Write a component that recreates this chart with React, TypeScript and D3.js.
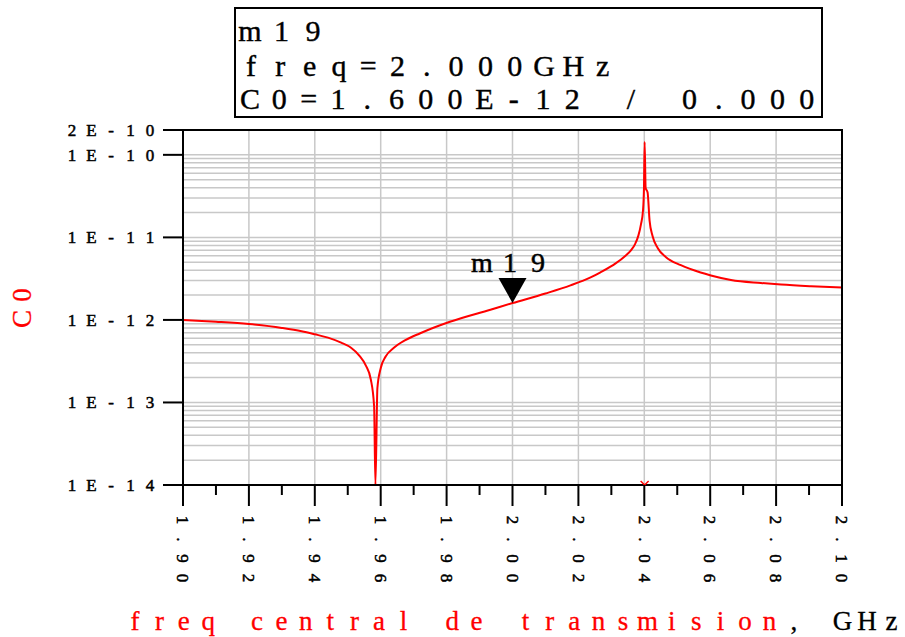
import React from "react";
import * as d3 from "d3";

// C0 versus centre transmission frequency
const freqGHz = [
  1.9, 1.91, 1.92, 1.93, 1.936, 1.94, 1.944, 1.948, 1.951, 1.9535, 1.9555,
  1.957, 1.958, 1.9584, 1.959, 1.96, 1.9615, 1.964, 1.9675, 1.972, 1.981,
  1.9933, 2.0, 2.01, 2.0176, 2.0237, 2.0267, 2.0313, 2.0343, 2.036, 2.0372,
  2.0382, 2.039, 2.0396, 2.0399, 2.0401, 2.0404, 2.041, 2.0416, 2.0425,
  2.0441, 2.0465, 2.0511, 2.0571, 2.0602, 2.0663, 2.0754, 2.0815, 2.0906, 2.1,
];
const c0Values = [
  1.0e-12, 0.95e-12, 0.89e-12, 0.8e-12, 0.73e-12, 0.67e-12, 0.61e-12,
  0.53e-12, 0.46e-12, 0.37e-12, 0.28e-12, 0.19e-12, 0.09e-12, 1e-15,
  0.15e-12, 0.26e-12, 0.36e-12, 0.46e-12, 0.57e-12, 0.69e-12, 0.95e-12,
  1.33e-12, 1.6e-12, 2.09e-12, 2.62e-12, 3.27e-12, 3.77e-12, 4.84e-12,
  6.0e-12, 7.0e-12, 8.3e-12, 10.5e-12, 14.5e-12, 21e-12, 40e-12, 143e-12,
  40e-12, 35e-12, 16e-12, 10.4e-12, 7.4e-12, 5.8e-12, 4.6e-12, 3.75e-12,
  3.46e-12, 3.05e-12, 2.8e-12, 2.68e-12, 2.56e-12, 2.47e-12,
];

const xTickValues = [1.9, 1.92, 1.94, 1.96, 1.98, 2.0, 2.02, 2.04, 2.06, 2.08, 2.1];
const xTickLabels = ["1.90", "1.92", "1.94", "1.96", "1.98", "2.00", "2.02", "2.04", "2.06", "2.08", "2.10"];
const xMinorTicks = [1.91, 1.93, 1.95, 1.97, 1.99, 2.01, 2.03, 2.05, 2.07, 2.09];
const yTickValues = [2e-10, 1e-10, 1e-11, 1e-12, 1e-13, 1e-14];
const yTickLabels = ["2E-10", "1E-10", "1E-11", "1E-12", "1E-13", "1E-14"];

const markerName = "m19";
const markerFreq = 2.0;
const markerValue = 1.6e-12;
const markerPhase = 0.0;
const poleFreq = 2.0401;

const W = 905;
const H = 637;
const left = 183;
const right = 842;
const top = 130;
const bottom = 485;

const FONT = "'Liberation Serif', 'DejaVu Serif', serif";
const RED = "#ff0000";
const GRID = "#c8c8c8";

// Text laid out on a fixed character pitch, one glyph per cell
function PitchText(props: {
  text: string;
  x0: number;
  y: number;
  pitch: number;
  size: number;
  fill?: string;
  dy?: string;
  weight?: number;
}) {
  const { text, x0, y, pitch, size, fill = "#000", dy, weight = 0.3 } = props;
  const xs = Array.from(text).map((_, i) => (x0 + i * pitch).toFixed(2)).join(" ");
  return (
    <text
      x={xs}
      y={y}
      dy={dy}
      textAnchor="middle"
      fontFamily={FONT}
      fontSize={size}
      fill={fill}
      stroke={fill}
      strokeWidth={weight}
      style={{ whiteSpace: "pre" }}
    >
      {text}
    </text>
  );
}

export default function App() {
  const x = d3.scaleLinear().domain([1.9, 2.1]).range([left, right]);
  const y = d3.scaleLog().domain([1e-14, 2e-10]).range([bottom, top]).clamp(true);

  // log grid: 1..9 in every decade up to the top of the axis
  const hGrid: number[] = [];
  for (let k = -14; k <= -10; k++) {
    for (let m = 1; m <= 9; m++) {
      const v = m * Math.pow(10, k);
      if (v <= 2e-10 * 1.0001) hGrid.push(v);
    }
  }

  const pts = freqGHz.map((f, i) => [f, c0Values[i]] as [number, number]);
  const line = d3
    .line<[number, number]>()
    .x((d) => x(d[0]))
    .y((d) => y(d[1]))
    .curve(d3.curveMonotoneX);

  const mx = x(markerFreq);
  const my = y(markerValue);
  const px = x(poleFreq);

  const tickFs = 17;
  const tickPitch = 19.5;

  const boxLines = [
    markerName,
    `freq=${markerFreq.toFixed(3)}GHz`,
    `C0=${markerValue.toExponential(3).toUpperCase()} / ${markerPhase.toFixed(3)}`,
  ];
  const boxX0 = [250, 251, 250];
  const boxPitch = [31.5, 29.3, 29.3];
  const boxBaselines = [41, 76, 109];

  const titleRed = "freq central de transmision";
  const titleBlack = ", GHz";
  const titleX0 = 135;
  const titlePitch = 24.4;

  return (
    <svg
      width={W}
      height={H}
      style={{ position: "absolute", left: 0, top: 0, background: "#fff" }}
    >
      <defs>
        <clipPath id="plotclip">
          <rect x={left} y={top} width={right - left} height={bottom - top} />
        </clipPath>
      </defs>
      <rect x={0} y={0} width={W} height={H} fill="#fff" />

      {/* grid */}
      {hGrid.map((v, i) => (
        <line key={"h" + i} x1={left} x2={right} y1={y(v)} y2={y(v)} stroke={GRID} strokeWidth={1.5} />
      ))}
      {xTickValues.map((v, i) => (
        <line key={"v" + i} x1={x(v)} x2={x(v)} y1={top} y2={bottom} stroke={GRID} strokeWidth={1.5} />
      ))}

      {/* curve */}
      <g clipPath="url(#plotclip)">
        <path d={line(pts) || ""} fill="none" stroke={RED} strokeWidth={2} />
      </g>

      {/* frame */}
      <rect x={left} y={top} width={right - left} height={bottom - top} fill="none" stroke="#000" strokeWidth={2} />

      {/* small red mark on the axis at the resonance */}
      <path
        d={`M${px - 4},${bottom - 4} L${px},${bottom} L${px + 4},${bottom - 4}`}
        fill="none"
        stroke={RED}
        strokeWidth={1.5}
      />

      {/* y ticks and labels */}
      {yTickValues.map((v, i) => (
        <g key={"yt" + i}>
          <line x1={left - 20} x2={left} y1={y(v)} y2={y(v)} stroke="#000" strokeWidth={2} />
          <PitchText text={yTickLabels[i]} x0={72} y={y(v)} dy="0.34em" pitch={tickPitch} size={tickFs} weight={0.5} />
        </g>
      ))}

      {/* x ticks and labels */}
      {xTickValues.map((v, i) => (
        <g key={"xt" + i}>
          <line x1={x(v)} x2={x(v)} y1={bottom} y2={bottom + 21} stroke="#000" strokeWidth={2} />
          <g transform={`translate(${x(v)},520) rotate(90)`}>
            <PitchText text={xTickLabels[i]} x0={0} y={0} dy="0.34em" pitch={19.3} size={tickFs} weight={0.5} />
          </g>
        </g>
      ))}
      {xMinorTicks.map((v, i) => (
        <line key={"xm" + i} x1={x(v)} x2={x(v)} y1={bottom} y2={bottom + 10} stroke="#000" strokeWidth={2} />
      ))}

      {/* axis titles */}
      <g transform="translate(22,319) rotate(-90)">
        <PitchText text="C0" x0={0} y={0} dy="0.34em" pitch={24} size={27} fill={RED} />
      </g>
      <PitchText text={titleRed} x0={titleX0} y={630} pitch={titlePitch} size={27} fill={RED} />
      <PitchText
        text={titleBlack}
        x0={titleX0 + titleRed.length * titlePitch}
        y={630}
        pitch={titlePitch}
        size={27}
      />

      {/* marker */}
      <path d={`M${mx},${my} L${mx - 14},${my - 25} L${mx + 14},${my - 25} Z`} fill="#000" />
      <PitchText text={markerName} x0={482} y={272} pitch={28} size={28} weight={0.5} />

      {/* marker readout box */}
      <rect x={235} y={8} width={587} height={109} fill="#fff" stroke="#000" strokeWidth={2} />
      {boxLines.map((s, i) => (
        <PitchText key={"bl" + i} text={s} x0={boxX0[i]} y={boxBaselines[i]} pitch={boxPitch[i]} size={30} weight={0.4} />
      ))}
    </svg>
  );
}
